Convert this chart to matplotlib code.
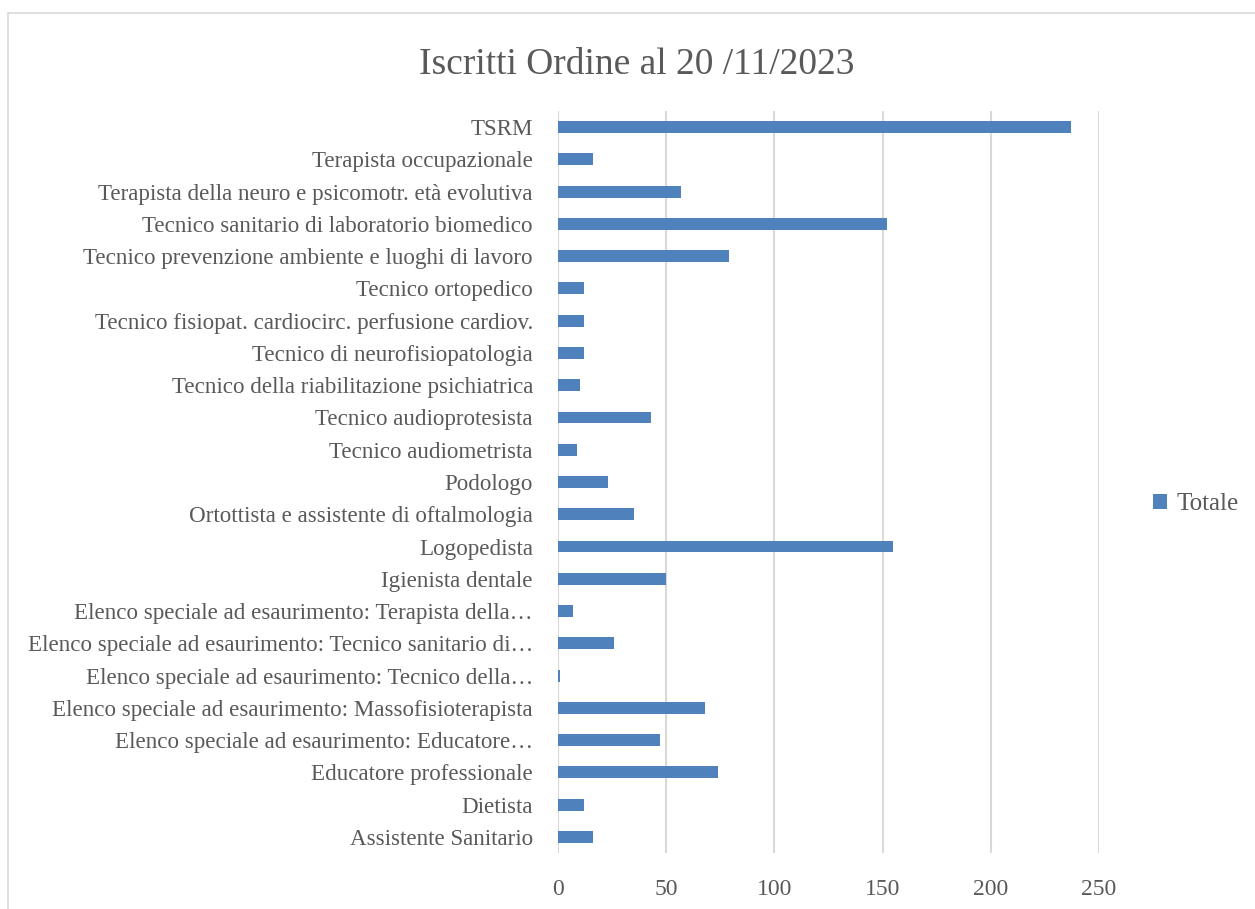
import matplotlib.pyplot as plt
from matplotlib.patches import Rectangle

# Iscritti all'Ordine per profilo professionale (dal basso verso l'alto)
categorie = [
    "Assistente Sanitario",
    "Dietista",
    "Educatore professionale",
    "Elenco speciale ad esaurimento: Educatore…",
    "Elenco speciale ad esaurimento: Massofisioterapista",
    "Elenco speciale ad esaurimento: Tecnico della…",
    "Elenco speciale ad esaurimento: Tecnico sanitario di…",
    "Elenco speciale ad esaurimento: Terapista della…",
    "Igienista dentale",
    "Logopedista",
    "Ortottista e assistente di oftalmologia",
    "Podologo",
    "Tecnico audiometrista",
    "Tecnico audioprotesista",
    "Tecnico della riabilitazione psichiatrica",
    "Tecnico di neurofisiopatologia",
    "Tecnico fisiopat. cardiocirc. perfusione cardiov.",
    "Tecnico ortopedico",
    "Tecnico prevenzione ambiente e luoghi di lavoro",
    "Tecnico sanitario di laboratorio biomedico",
    "Terapista della neuro e psicomotr. età evolutiva",
    "Terapista occupazionale",
    "TSRM",
]
totale = [16, 12, 74, 47, 68, 1, 26, 7, 50, 155, 35, 23, 9, 43, 10, 12, 12, 12, 79, 152, 57, 16, 237]

plt.rcParams['font.family'] = ['Liberation Serif', 'DejaVu Serif']
grigio = "#595959"

fig = plt.figure(figsize=(12.55, 9.09), dpi=100)
ax = fig.add_axes([0.4446, 0.0616, 0.4311, 0.8163])

ax.barh(range(len(categorie)), totale, height=0.37, color="#4F81BD", label="Totale", zorder=3)

ax.set_xlim(0, 250)
ax.set_ylim(-0.5, len(categorie) - 0.5)
ax.set_xticks([0, 50, 100, 150, 200, 250])
ax.set_yticks(range(len(categorie)))
ax.set_yticklabels(categorie)
ax.tick_params(axis="y", length=0, pad=18, labelsize=16.6, labelcolor=grigio)
ax.tick_params(axis="x", length=0, pad=19, labelsize=17, labelcolor=grigio)
ax.grid(axis="x", color="#D9D9D9", linewidth=1.5, zorder=0)
for s in ax.spines.values():
    s.set_visible(False)

fig.text(0.5076, 0.929, "Iscritti Ordine al 20 /11/2023", ha="center", va="center",
         fontsize=27, color=grigio)

ax.legend(loc="center left", bbox_to_anchor=(1.1, 0.47), frameon=False,
          fontsize=18, handlelength=0.55, handleheight=0.55, handletextpad=0.4,
          labelcolor=grigio, borderpad=0, borderaxespad=0)

fig.patches.append(Rectangle((8 / 1255, -0.1), 1.2, (909 - 13) / 909 + 0.1,
                             transform=fig.transFigure, fill=False,
                             edgecolor="#D9D9D9", linewidth=1.2))

fig.savefig("out.png", dpi=100)
